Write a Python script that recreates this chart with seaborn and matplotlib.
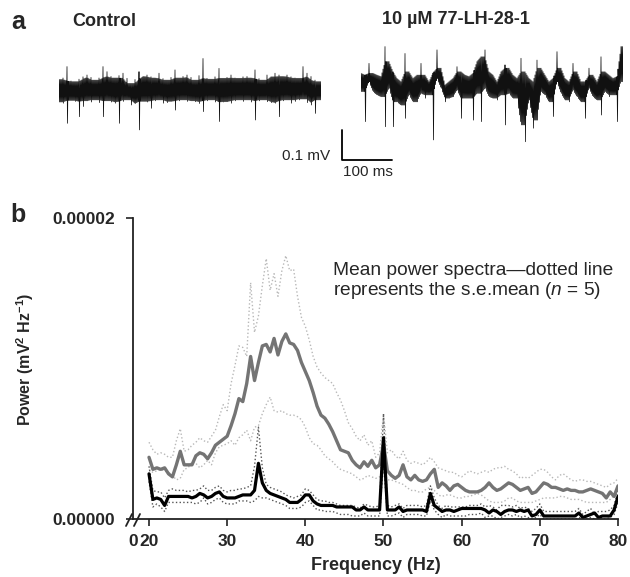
import matplotlib
matplotlib.use("Agg")
import matplotlib.pyplot as plt
import numpy as np
import pandas as pd
import seaborn as sns

# ---------------- panel a: field potential traces ----------------
# envelope of each trace, read every 8 ms (upper / lower edge, in µV)
trace_step_ms = 8
control_hi = [35, 40, 78, 30, 28, 36, 44, 50, 42, 33,
              40, 78, 61, 45, 40, 48, 56, 39, 22, 35,
              61, 45, 50, 44, 40, 56, 38, 33, 42, 67,
              40, 45, 50, 42, 33, 48, 105, 39, 36, 44,
              72, 39, 42, 50, 40, 39, 44, 45, 40, 67,
              38, 33, 50, 44, 56, 50, 45, 50, 44, 40,
              39, 78, 56, 45, 33, 28]
control_lo = [-40, -44, -111, -35, -38, -89, -55, -36, -40, -33,
              -42, -89, -36, -40, -44, -111, -38, -33, -50, -45,
              -133, -38, -40, -61, -36, -33, -44, -42, -38, -67,
              -36, -33, -38, -36, -39, -45, -72, -36, -33, -40,
              -105, -40, -39, -44, -36, -33, -38, -33, -40, -100,
              -36, -33, -39, -42, -44, -89, -36, -33, -44, -38,
              -33, -30, -42, -50, -78, -33]
drug_hi = [39, 33, 72, 39, 33, 28, 128, 78, 44, 22,
           11, 105, 44, 22, 33, 72, 33, 11, 40, 117,
           56, 0, 11, 22, 61, 44, 33, 28, 39, 78,
           94, 117, 44, 33, 11, 44, 67, 56, 33, 22,
           89, 44, 22, 11, 83, 56, 33, 11, 22, 111,
           56, 22, 11, 72, 44, 11, 11, 56, 33, 11,
           94, 44, 33, 22, 28, 128]
drug_lo = [-22, -122, 11, -22, -33, -39, -139, -11, -139, -56,
           -67, -111, -33, -56, -56, -28, -44, -33, -183, 22,
           -11, -56, -44, -39, -17, -111, -44, -44, -117, -28,
           -122, -11, -39, -44, -50, -33, -133, -28, -44, -44,
           -133, -189, -50, -144, -117, -22, -33, -56, -105, 11,
           -28, -50, -56, -17, -39, -56, -111, -11, -39, -50,
           -100, -22, -39, -33, -122, 11]

# ---------------- panel b: mean power spectra (x 1e-6 mV^2/Hz) ----------------
POWER_SCALE = 1e-6
freq_hz = np.arange(20, 80.5, 0.5)
drug_mean = [4.1, 3.3, 3.4, 3.3, 3.4, 3.0, 2.8, 3.6, 4.5, 3.6,
             3.6, 3.6, 4.2, 4.4, 4.3, 4.0, 4.4, 4.9, 5.1, 5.3,
             5.5, 6.2, 7.0, 8.0, 7.8, 9.0, 10.8, 9.2, 10.4, 11.5,
             11.6, 11.1, 12.0, 10.9, 11.8, 12.3, 11.7, 11.6, 11.2, 10.4,
             9.8, 9.2, 8.4, 7.5, 6.9, 6.7, 6.3, 5.8, 5.2, 4.6,
             4.5, 4.4, 3.9, 3.6, 3.4, 3.8, 3.5, 3.9, 3.4, 3.6,
             5.0, 3.2, 2.9, 2.7, 2.9, 3.6, 2.8, 2.6, 2.9, 2.6,
             2.5, 2.6, 3.0, 3.3, 2.1, 2.4, 2.2, 1.9, 2.2, 2.3,
             2.1, 1.9, 1.8, 1.8, 1.8, 1.9, 2.1, 2.4, 2.1, 1.9,
             2.0, 2.2, 2.4, 2.3, 2.1, 1.9, 2.0, 2.1, 1.7, 1.8,
             2.1, 2.4, 2.3, 2.1, 2.1, 2.0, 1.9, 2.0, 1.9, 1.9,
             1.8, 1.8, 1.9, 2.0, 1.9, 1.8, 1.7, 1.4, 1.8, 1.5,
             2.2]
drug_upper = [5.1, 4.6, 4.3, 4.4, 4.3, 4.1, 4.1, 5.2, 6.0, 4.5,
              4.6, 4.9, 5.1, 5.4, 5.2, 5.1, 5.5, 5.9, 6.8, 7.6,
              7.2, 9.0, 10.2, 11.5, 11.4, 10.8, 15.7, 12.4, 13.5, 15.5,
              17.3, 15.2, 16.3, 14.8, 16.5, 17.5, 16.5, 16.6, 14.8, 13.4,
              12.8, 11.9, 10.8, 10.1, 9.7, 9.4, 9.2, 9.0, 8.4, 7.9,
              7.2, 6.4, 6.0, 5.5, 5.2, 5.6, 4.9, 5.2, 4.1, 4.4,
              7.0, 4.4, 4.6, 4.2, 4.0, 4.5, 3.9, 3.7, 3.8, 3.7,
              3.6, 3.8, 4.1, 3.8, 3.4, 3.3, 3.2, 3.1, 3.1, 2.9,
              2.8, 3.0, 3.2, 3.1, 3.0, 3.1, 3.2, 3.1, 3.3, 3.4,
              3.4, 3.5, 3.3, 3.2, 3.0, 2.7, 2.8, 2.7, 2.9, 3.1,
              3.3, 3.3, 3.1, 2.8, 2.6, 2.9, 3.0, 2.8, 2.6, 2.5,
              2.6, 2.6, 2.5, 2.5, 2.4, 2.3, 2.2, 2.1, 2.3, 2.4,
              2.7]
drug_lower = [3.3, 3.1, 3.2, 3.3, 3.2, 3.1, 2.9, 2.6, 2.7, 3.3,
              3.4, 3.8, 3.7, 3.4, 3.6, 3.9, 3.6, 4.4, 4.8, 4.9,
              5.0, 5.2, 4.9, 5.4, 5.6, 5.9, 5.2, 6.1, 6.2, 7.0,
              7.6, 8.1, 7.2, 7.1, 7.2, 7.0, 6.9, 6.9, 6.8, 6.6,
              6.1, 5.4, 5.0, 4.9, 4.6, 4.2, 4.0, 3.8, 3.5, 3.3,
              3.2, 3.1, 3.0, 2.8, 2.6, 2.7, 2.9, 2.8, 2.7, 2.8,
              3.2, 2.6, 2.6, 2.5, 2.4, 2.3, 2.1, 1.9, 1.9, 1.8,
              1.8, 2.0, 2.1, 1.9, 1.6, 1.5, 1.6, 1.6, 1.5, 1.4,
              1.4, 1.5, 1.5, 1.6, 1.7, 1.6, 1.4, 1.2, 1.1, 1.1,
              1.1, 1.2, 1.4, 1.4, 1.2, 1.1, 1.1, 1.1, 1.1, 1.2,
              1.3, 1.4, 1.4, 1.4, 1.4, 1.5, 1.5, 1.4, 1.3, 1.3,
              1.3, 1.2, 1.1, 1.1, 1.1, 1.1, 1.1, 1.1, 1.3, 1.6,
              1.9]
control_mean = [3.0, 1.3, 1.4, 1.3, 0.9, 1.5, 1.5, 1.5, 1.5, 1.5,
                1.5, 1.4, 1.5, 1.7, 1.6, 1.4, 1.5, 1.7, 1.8, 1.5,
                1.4, 1.4, 1.4, 1.5, 1.6, 1.6, 1.6, 1.9, 3.7, 2.4,
                1.9, 1.7, 1.6, 1.5, 1.4, 1.3, 1.1, 1.1, 1.1, 1.3,
                1.6, 1.6, 1.2, 1.0, 0.9, 0.9, 0.9, 0.9, 0.8, 0.8,
                0.8, 0.8, 0.8, 0.6, 0.6, 0.8, 0.6, 0.6, 0.6, 0.6,
                5.4, 0.6, 0.6, 0.6, 0.8, 0.5, 0.6, 0.6, 0.6, 0.6,
                0.6, 0.5, 1.7, 0.9, 0.7, 0.5, 0.6, 0.6, 0.5, 0.6,
                0.7, 0.7, 0.7, 0.7, 0.7, 0.7, 0.6, 0.4, 0.6, 0.5,
                0.3, 0.5, 0.6, 0.6, 0.5, 0.6, 0.5, 0.6, 0.2, 0.3,
                0.6, 0.2, 0.2, 0.2, 0.2, 0.2, 0.2, 0.2, 0.2, 0.2,
                0.4, 0.1, 0.2, 0.3, 0.4, 0.1, 0.2, 0.2, 0.2, 0.6,
                1.5]
control_upper = [3.5, 1.9, 1.8, 1.8, 1.4, 1.9, 2.0, 1.9, 1.9, 1.9,
                 1.8, 1.9, 1.9, 2.0, 2.2, 1.9, 1.9, 2.1, 2.2, 1.9,
                 1.8, 1.9, 1.9, 2.0, 2.0, 2.1, 2.2, 3.5, 6.1, 3.4,
                 2.3, 2.1, 2.0, 1.9, 1.8, 1.6, 1.5, 1.4, 1.5, 1.6,
                 2.0, 1.9, 1.6, 1.3, 1.2, 1.2, 1.1, 1.1, 1.0, 0.9,
                 0.9, 0.9, 0.9, 0.8, 0.7, 1.0, 0.9, 0.8, 0.8, 0.9,
                 7.0, 0.9, 0.8, 0.9, 1.0, 0.7, 0.9, 0.9, 0.9, 0.9,
                 0.8, 0.9, 2.2, 1.4, 0.9, 0.7, 0.9, 0.8, 0.8, 0.8,
                 0.8, 0.8, 0.9, 0.9, 0.9, 1.0, 0.8, 0.9, 0.8, 0.6,
                 0.9, 0.9, 0.9, 0.8, 0.9, 0.7, 0.8, 0.7, 0.5, 0.7,
                 1.0, 0.5, 0.5, 0.5, 0.5, 0.5, 0.5, 0.5, 0.5, 0.5,
                 0.7, 0.3, 0.5, 0.7, 0.3, 0.5, 0.5, 0.5, 0.6, 0.9,
                 1.9]
control_lower = [2.5, 0.8, 1.0, 0.8, 0.5, 1.1, 1.1, 1.1, 1.1, 1.1,
                 1.1, 1.1, 1.0, 1.1, 1.4, 1.0, 1.1, 1.3, 1.4, 1.1,
                 1.0, 1.0, 1.0, 1.2, 1.2, 1.2, 1.1, 1.2, 1.5, 1.4,
                 1.4, 1.3, 1.2, 1.1, 1.0, 0.9, 0.7, 0.7, 0.7, 0.8,
                 1.1, 1.2, 0.9, 0.6, 0.6, 0.5, 0.5, 0.5, 0.4, 0.3,
                 0.3, 0.3, 0.2, 0.2, 0.2, 0.4, 0.2, 0.2, 0.2, 0.2,
                 3.8, 0.2, 0.2, 0.3, 0.4, 0.1, 0.3, 0.3, 0.3, 0.3,
                 0.2, 0.2, 1.2, 0.6, 0.3, 0.1, 0.3, 0.2, 0.2, 0.2,
                 0.2, 0.2, 0.3, 0.3, 0.3, 0.4, 0.1, 0.2, 0.2, 0.0,
                 0.1, 0.2, 0.3, 0.2, 0.3, 0.1, 0.2, 0.1, 0.0, 0.1,
                 0.3, 0.0, 0.0, 0.0, 0.0, 0.0, 0.0, 0.0, 0.0, 0.0,
                 0.1, 0.0, 0.0, 0.1, 0.0, 0.0, 0.0, 0.0, 0.1, 0.3,
                 1.1]

xtick_values = [20, 30, 40, 50, 60, 70, 80]


def dense_trace(hi, lo, step, sub=1.0, tight=False):
    # sweep up and down inside the envelope so the line reads as a noise band.
    # each column reaches its full extreme once (the spikes); in between the
    # sweep follows a sloping core edge. tight=True keeps the core at the
    # smallest of the three neighbouring columns, so more small spikes show
    n = len(hi)
    core_hi, core_lo = [], []
    for k in range(n):
        a, b = max(k - 1, 0), min(k + 1, n - 1)
        if tight:
            core_hi.append(min(hi[a], hi[k], hi[b]))
            core_lo.append(max(lo[a], lo[k], lo[b]))
        else:
            core_hi.append(min(hi[k], max(hi[a], hi[b])))
            core_lo.append(max(lo[k], min(lo[a], lo[b])))
    t, v = [], []
    per = int(step / sub)
    for k in range(n):
        k2 = min(k + 1, n - 1)
        for j in range(per):
            t.append(k * step + j * sub)
            if j == 0:
                v.append(hi[k])
            elif j == 1:
                v.append(lo[k])
            else:
                fr = j / per
                if j % 2 == 0:
                    v.append(core_hi[k] + fr * (core_hi[k2] - core_hi[k]))
                else:
                    v.append(core_lo[k] + fr * (core_lo[k2] - core_lo[k]))
    return pd.DataFrame({"t": t, "v": v})


sns.set_style("ticks")
plt.rcParams["font.family"] = ["Liberation Sans", "DejaVu Sans"]
plt.rcParams["mathtext.fontset"] = "custom"
plt.rcParams["mathtext.rm"] = "Liberation Sans"
plt.rcParams["mathtext.it"] = "Liberation Sans:italic"
plt.rcParams["mathtext.bf"] = "Liberation Sans:bold"

W, H = 630, 577
fig = plt.figure(figsize=(W / 100, H / 100), dpi=100)

# --- traces ---
ax_ctrl = fig.add_axes([59 / W, 1 - 170 / H, 262 / W, 140 / H])
ax_drug = fig.add_axes([361 / W, 1 - 170 / H, 262 / W, 140 / H])
sns.lineplot(data=dense_trace(control_hi, control_lo, trace_step_ms, tight=True),
             x="t", y="v", ax=ax_ctrl, color="#111111", lw=0.55,
             sort=False, estimator=None)
sns.lineplot(data=dense_trace(drug_hi, drug_lo, trace_step_ms),
             x="t", y="v", ax=ax_drug, color="#111111", lw=0.55,
             sort=False, estimator=None)
ax_ctrl.set_xlim(0, 524)
ax_ctrl.set_ylim(-266.7, 200)
ax_drug.set_xlim(0, 524)
ax_drug.set_ylim(-283.3, 183.3)
for a in (ax_ctrl, ax_drug):
    a.axis("off")

# scale bar: 100 µV x 100 ms
ax_drug.plot([-38, -38, 62], [-150, -250, -250], color="black", lw=1.3,
             clip_on=False)
ax_drug.text(-62, -237, "0.1 mV", ha="right", va="center", fontsize=11)
ax_drug.text(13, -290, "100 ms", ha="center", va="center", fontsize=11)

fig.text(18 / W, 1 - 22 / H, "a", fontsize=18, fontweight="bold",
         ha="center", va="center")
fig.text(72 / W, 1 - 21 / H, "Control", fontsize=13, fontweight="bold",
         ha="left", va="center")
fig.text(382 / W, 1 - 20 / H, "10 µM 77-LH-28-1", fontsize=13,
         fontweight="bold", ha="left", va="center")

# --- spectra ---
ax = fig.add_axes([133 / W, 1 - 519 / H, 485 / W, 301 / H])
f = freq_hz
sc = POWER_SCALE
sns.lineplot(x=f, y=np.array(drug_upper) * sc, ax=ax, color="#b8b8b8",
             lw=1.0, linestyle=":")
sns.lineplot(x=f, y=np.array(drug_lower) * sc, ax=ax, color="#b8b8b8",
             lw=1.0, linestyle=":")
sns.lineplot(x=f, y=np.array(control_upper) * sc, ax=ax, color="#555555",
             lw=1.0, linestyle=":")
sns.lineplot(x=f, y=np.array(control_lower) * sc, ax=ax, color="#555555",
             lw=1.0, linestyle=":")
sns.lineplot(x=f, y=np.array(drug_mean) * sc, ax=ax, color="#747474", lw=2.4)
sns.lineplot(x=f, y=np.array(control_mean) * sc, ax=ax, color="black", lw=2.3)

x_left = 20 - 16 / 7.817
ax.set_xlim(x_left, 80)
ax.set_ylim(0, 2e-5)
ax.set_xticks([x_left] + xtick_values)
ax.set_xticklabels(["0"] + [str(v) for v in xtick_values])
ax.get_xaxis().get_major_ticks()[0].tick1line.set_visible(False)
ax.set_yticks([0, 2e-5])
ax.set_yticklabels(["0.00000", "0.00002"])
for lbl in ax.get_xticklabels() + ax.get_yticklabels():
    lbl.set_fontweight("bold")
ax.tick_params(axis="both", direction="out", length=5, width=1.2,
               labelsize=12.5, color="#222222")
ax.tick_params(axis="x", pad=6)
ax.tick_params(axis="y", pad=8)
sns.despine(ax=ax)
for s in ("left", "bottom"):
    ax.spines[s].set_linewidth(1.3)
    ax.spines[s].set_color("#222222")

ax.set_xlabel("Frequency (Hz)", fontsize=13, fontweight="bold")
ax.xaxis.set_label_coords(0.5, -0.125)
ax.set_ylabel(r"Power (mV$^{\mathbf{2}}$ Hz$^{\mathbf{-1}}$)", fontsize=11.5,
              fontweight="bold")
ax.yaxis.set_label_coords(-0.2, 0.53)

# axis break marks
for dx in (-4, 4):
    x0 = dx / 485
    ax.plot([x0 - 3 / 485, x0 + 3 / 485], [-7 / 301, 5 / 301],
            transform=ax.transAxes, color="#222222", lw=1.3, clip_on=False)

ax.text(0.412, 0.855,
        "Mean power spectra\u2014dotted line\nrepresents the s.e.mean ($n$ = 5)",
        transform=ax.transAxes, ha="left", va="top", fontsize=13.8,
        linespacing=1.1)

fig.text(18 / W, 1 - 215 / H, "b", fontsize=18, fontweight="bold",
         ha="center", va="center")

fig.savefig("out.png", dpi=100)
